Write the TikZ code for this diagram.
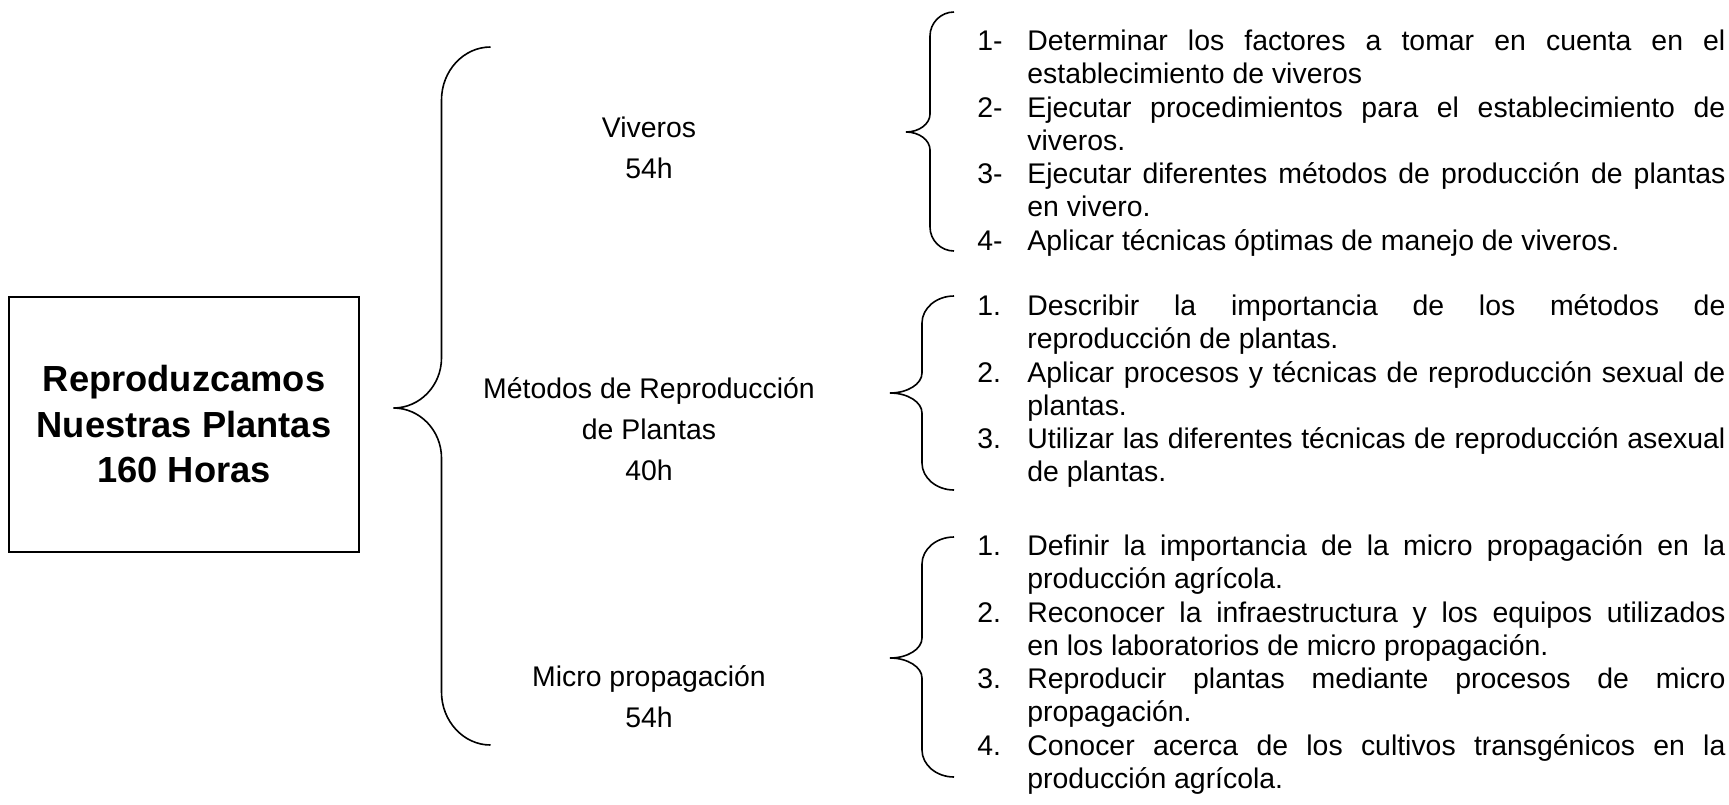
\documentclass[tikz,border=0pt]{standalone}
\usepackage{fontspec}
\setmainfont{Liberation Sans}
\usepackage{tikz}
\usetikzlibrary{positioning}
\tolerance=10000
\hyphenpenalty=10000

% curly brace: stem x, top, tip, bottom, hook width, hook height, tip width, tip height
\newcommand{\curlbrace}[8]{%
  \draw[bracepen] ({#1+#5},#2) .. controls ({#1+0.45*#5},#2) and (#1,{#2+0.45*#6}) .. (#1,{#2+#6})
    -- (#1,{#3-#8}) .. controls (#1,{#3-0.45*#8}) and ({#1-0.45*#7},#3) .. ({#1-#7},#3)
    .. controls ({#1-0.45*#7},#3) and (#1,{#3+0.45*#8}) .. (#1,{#3+#8})
    -- (#1,{#4-#6}) .. controls (#1,{#4-0.45*#6}) and ({#1+0.45*#5},#4) .. ({#1+#5},#4);}
% one numbered objective with hanging indent
\newcommand{\objetivo}[2]{\hangindent=25pt\hangafter=1\noindent\strut\makebox[25pt][l]{#1}#2\par}

\tikzset{
  rootbox/.style={draw, line width=0.8pt, minimum width=175pt, minimum height=127.5pt, inner sep=0pt},
  roottext/.style={align=center, font={\fontsize{18.15pt}{22.75pt}\selectfont\bfseries}, inner sep=0pt},
  unidad/.style={align=center, font={\fontsize{14.2pt}{20.5pt}\selectfont}, inner sep=0pt},
  objetivos/.style={anchor=north west, text width=374pt, align=justify, font={\fontsize{14.2pt}{16.65pt}\selectfont}, inner sep=0pt},
  bracepen/.style={line width=0.8pt}
}

\begin{document}
\begin{tikzpicture}[x=0.5pt, y=-0.5pt]
    \useasboundingbox (0,0) rectangle (1729,804);

    % module box
    \node[rootbox] (root) at (184,424.5) {};
    \node[roottext] (title) at (root.center) {Reproduzcamos\\Nuestras Plantas\\160 Horas};

    % big brace and the three units
    \curlbrace{441.5}{47}{408}{745}{49}{53}{48}{50}
    \node[unidad] (viveros) at (649,147.4) {Viveros\\54h};
    \node[unidad] (metodos) at (649,429) {Métodos de Reproducción\\de Plantas\\40h};
    \node[unidad] (micro) at (649,697) {Micro propagación\\54h};

    % objectives of each unit
    \curlbrace{930}{12}{132}{251}{24}{24}{24}{18}
    \node[objetivos] (viv) at (977,26.7) {%
      \objetivo{1-}{Determinar los factores a tomar en cuenta en el \linebreak establecimiento de viveros}
      \objetivo{2-}{Ejecutar procedimientos para el establecimiento de \linebreak viveros.}
      \objetivo{3-}{Ejecutar diferentes métodos de producción de plantas \linebreak en vivero.}
      \objetivo{4-}{Aplicar técnicas óptimas de manejo de viveros.}};

    \curlbrace{922}{296}{393}{490}{32}{27}{32}{20}
    \node[objetivos] (met) at (977,291.7) {%
      \objetivo{1.}{Describir la importancia de los métodos de \linebreak reproducción de plantas.}
      \objetivo{2.}{Aplicar procesos y técnicas de reproducción sexual de \linebreak plantas.}
      \objetivo{3.}{Utilizar las diferentes técnicas de reproducción asexual \linebreak de plantas.}};

    \curlbrace{922}{537}{658}{777}{32}{27}{32}{20}
    \node[objetivos] (mic) at (977,531.7) {%
      \objetivo{1.}{Definir la importancia de la micro propagación en la \linebreak producción agrícola.}
      \objetivo{2.}{Reconocer la infraestructura y los equipos utilizados \linebreak en los laboratorios de micro propagación.}
      \objetivo{3.}{Reproducir plantas mediante procesos de micro \linebreak propagación.}
      \objetivo{4.}{Conocer acerca de los cultivos transgénicos en la \linebreak producción agrícola.}};
\end{tikzpicture}
\end{document}
